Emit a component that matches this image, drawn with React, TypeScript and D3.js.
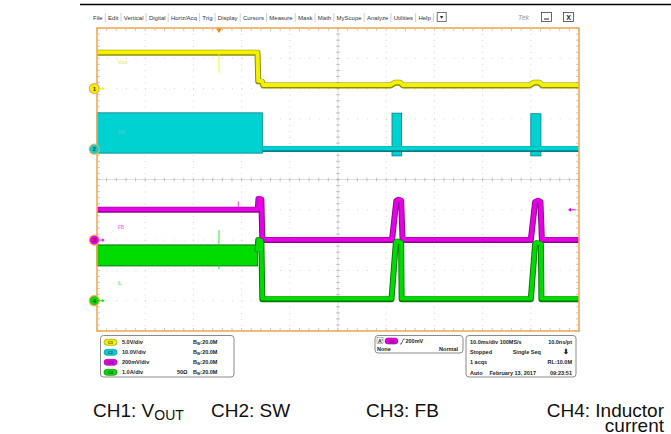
import React, { useMemo } from "react";
import * as d3 from "d3";

const W = 671;
const H = 434;

// ---------- data ----------
const menuItems = ["File", "Edit", "Vertical", "Digital", "Horiz/Acq", "Trig", "Display", "Cursors", "Measure", "Mask", "Math", "MyScope", "Analyze", "Utilities", "Help"];
const channelNums = ["1", "2", "3", "4"];
const channelNames = ["C1", "C2", "C3", "C4"];
const channelScales = [5, 10, 0.2, 1]; // units per division
const channelPositions = [3, 1, -2, -4]; // divisions from centre
const channelLabels = ["Vout", "SW", "FB", "IL"];
const channelSettings = ["5.0V/div", "10.0V/div", "200mV/div", "1.0A/div"];
const channelBandwidth = ["20.0M", "20.0M", "20.0M", "20.0M"];
const channelTermination = ["", "", "", "50Ω"];

// time in ms (10 ms/div)
const triggerTime = 25.3;
const ch1Trace: [number, number][] = [
  [0, 5.9], [33.3, 5.9], [33.45, 1.2], [34.2, 1.15], [34.5, 0.5], [60.9, 0.5], [61.8, 0.95], [62.9, 0.95], [63.5, 0.5],
  [89.7, 0.5], [90.6, 0.95], [91.8, 0.95], [92.4, 0.5], [100, 0.5],
];
// switching bursts: [start, end, low, high]
const ch2Bursts: [number, number, number, number][] = [
  [0, 34.3, -1.3, 12.0], [61.2, 63.2, -2.2, 11.9], [90.0, 92.1, -2.2, 11.7],
];
const ch2Trace: [number, number][] = [[34.3, 0.1], [100, 0.1]];
const ch3Trace: [number, number][] = [
  [0, 0.2], [33.35, 0.2], [33.5, 0.272], [34.1, 0.268], [34.3, 0.0], [61.2, 0.0], [62.1, 0.258], [62.6, 0.266], [63.1, 0.26],
  [63.4, 0.0], [90.0, 0.0], [90.9, 0.252], [91.5, 0.26], [92.0, 0.252], [92.3, 0.0], [100, 0.0],
];
// inductor ripple band before the drop: [start, end, low, high]
const ch4Ripple: [number, number, number, number][] = [[0, 33.3, 1.15, 1.84]];
const ch4Trace: [number, number][] = [
  [33.3, 1.6], [33.45, 2.0], [34.1, 1.95], [34.3, 0.05], [61.1, 0.05], [62.0, 1.92], [62.3, 1.95], [63.1, 1.9], [63.2, 0.05],
  [90.0, 0.05], [90.9, 1.88], [91.2, 1.9], [92.1, 1.86], [92.2, 0.05], [100, 0.05],
];
// single spikes: [channel index, time, from, to]
const glitches: [number, number, number, number][] = [
  [0, 25.3, 5.9, 2.6], [3, 25.3, 2.33, 1.04], [2, 29.3, 0.2, 0.255],
];
const trigLevelCh3 = 0.2;
const trigRows = ["200mV", "None", "Normal"];
const horizRows: [string, string, string][] = [
  ["10.0ms/div 100MS/s", "", "10.0ns/pt"],
  ["Stopped", "Single Seq", "⬇"],
  ["1 acqs", "", "RL:10.0M"],
  ["Auto", "February 13, 2017", "09:23:51"],
];

// ---------- style ----------
const PLOT = { left: 97, right: 579, top: 28, bottom: 331 };
const colors = ["#F2F200", "#00D2D2", "#E600E6", "#00DC00"];
const darks = ["#8E8E00", "#007F86", "#8E008E", "#007A00"];
const labelColors = ["#E8E860", "#40D8D8", "#F060F0", "#50E050"];
const FONT = "'Liberation Sans', Arial, sans-serif";
const ORANGE = "#F2AA55";

export default function App() {
  const x = d3.scaleLinear().domain([0, 100]).range([PLOT.left, PLOT.right]);
  const yDiv = d3.scaleLinear().domain([5, -5]).range([PLOT.top, PLOT.bottom]);
  const yCh = (ch: number, v: number) => yDiv(channelPositions[ch] + v / channelScales[ch]);
  const lineFor = (ch: number) =>
    d3.line<[number, number]>().x((d) => x(d[0])).y((d) => yCh(ch, d[1]));

  const menuLayout = useMemo(() => {
    const c = document.createElement("canvas").getContext("2d")!;
    c.font = `6px ${FONT}`;
    let cx = 93;
    const out: { t: string; x: number; sep: number }[] = [];
    menuItems.forEach((t) => {
      const w = c.measureText(t).width;
      out.push({ t, x: cx, sep: cx + w + 2.6 });
      cx += w + 5.4;
    });
    return { items: out, end: cx };
  }, []);

  const xTicks = d3.range(0, 101, 2);
  const yTicksMinor = d3.range(-5, 5.001, 0.2);

  const strokeTrace = (ch: number, data: [number, number][], key: string) => (
    <g key={key}>
      <path d={lineFor(ch)(data)!} fill="none" stroke={darks[ch]} strokeWidth={6} strokeLinejoin="round" />
      <path d={lineFor(ch)(data)!} fill="none" stroke={colors[ch]} strokeWidth={4} strokeLinejoin="round" transform="translate(0,-0.6)" />
    </g>
  );

  return (
    <svg width={W} height={H} style={{ position: "absolute", left: 0, top: 0, background: "#fff" }} fontFamily={FONT}>
      {/* top rule */}
      <line x1={80} x2={671} y1={4.5} y2={4.5} stroke="#000" strokeWidth={1.5} />

      {/* menu */}
      {menuLayout.items.map((m) => (
        <g key={m.t}>
          <text x={m.x} y={19.5} fontSize={6} fill="#333">{m.t}</text>
          <line x1={m.sep} x2={m.sep} y1={13} y2={22} stroke="#bbb" strokeWidth={0.7} />
        </g>
      ))}
      <rect x={menuLayout.end + 1} y={12.5} width={9} height={9} fill="#fff" stroke="#555" strokeWidth={0.8} />
      <text x={menuLayout.end + 5.5} y={19} fontSize={6} textAnchor="middle" fill="#222">▾</text>
      <text x={518} y={20} fontSize={7} fill="#999" fontStyle="italic">Tek</text>
      <rect x={541.5} y={12.5} width={10} height={9} fill="#fff" stroke="#444" strokeWidth={0.8} />
      <line x1={544} x2={549} y1={19} y2={19} stroke="#222" strokeWidth={1} />
      <rect x={563.5} y={12.5} width={10} height={9} fill="#fff" stroke="#444" strokeWidth={0.8} />
      <text x={568.5} y={19.5} fontSize={7} textAnchor="middle" fill="#222" fontWeight="bold">X</text>

      {/* graticule */}
      <rect x={PLOT.left} y={PLOT.top} width={PLOT.right - PLOT.left} height={PLOT.bottom - PLOT.top} fill="#fff" />
      {d3.range(1, 10).map((i) => (
        <line key={"vx" + i} x1={x(i * 10)} x2={x(i * 10)} y1={PLOT.top} y2={PLOT.bottom} stroke="#bdbdbd" strokeWidth={0.8} strokeDasharray="0.8,5.26" />
      ))}
      {d3.range(-4, 5).map((i) => (
        <line key={"hy" + i} x1={PLOT.left} x2={PLOT.right} y1={yDiv(i)} y2={yDiv(i)} stroke="#bdbdbd" strokeWidth={0.8} strokeDasharray="0.8,8.84" />
      ))}
      <line x1={x(50)} x2={x(50)} y1={PLOT.top} y2={PLOT.bottom} stroke="#d0d0d0" strokeWidth={0.7} />
      <line x1={PLOT.left} x2={PLOT.right} y1={yDiv(0)} y2={yDiv(0)} stroke="#d0d0d0" strokeWidth={0.7} />
      {xTicks.map((t) => (
        <g key={"xt" + t} stroke="#b0b0b0" strokeWidth={0.7}>
          <line x1={x(t)} x2={x(t)} y1={PLOT.top} y2={PLOT.top + 3} />
          <line x1={x(t)} x2={x(t)} y1={PLOT.bottom} y2={PLOT.bottom - 3} />
          <line x1={x(t)} x2={x(t)} y1={yDiv(0) - 2} y2={yDiv(0) + 2} />
        </g>
      ))}
      {yTicksMinor.map((d) => (
        <g key={"yt" + d.toFixed(1)} stroke="#b0b0b0" strokeWidth={0.7}>
          <line x1={PLOT.left} x2={PLOT.left + 3} y1={yDiv(d)} y2={yDiv(d)} />
          <line x1={PLOT.right} x2={PLOT.right - 3} y1={yDiv(d)} y2={yDiv(d)} />
          <line x1={x(50) - 2} x2={x(50) + 2} y1={yDiv(d)} y2={yDiv(d)} />
        </g>
      ))}

      {/* CH1 */}
      {strokeTrace(0, ch1Trace, "c1")}
      {/* CH2 bursts */}
      {ch2Bursts.map((b, i) => (
        <rect key={"b" + i} x={x(b[0])} y={yCh(1, b[3])} width={x(b[1]) - x(b[0])} height={yCh(1, b[2]) - yCh(1, b[3])} fill={colors[1]} stroke={darks[1]} strokeWidth={0.8} />
      ))}
      {strokeTrace(1, ch2Trace, "c2")}
      {/* CH3 */}
      {strokeTrace(2, ch3Trace, "c3")}
      {/* CH4 */}
      {ch4Ripple.map((b, i) => (
        <rect key={"r" + i} x={x(b[0])} y={yCh(3, b[3])} width={x(b[1]) - x(b[0])} height={yCh(3, b[2]) - yCh(3, b[3])} fill={colors[3]} stroke={darks[3]} strokeWidth={1} />
      ))}
      {strokeTrace(3, ch4Trace, "c4")}
      {glitches.map((g, i) => (
        <line key={"g" + i} x1={x(g[1])} x2={x(g[1])} y1={yCh(g[0], g[2])} y2={yCh(g[0], g[3])} stroke={colors[g[0]]} strokeWidth={0.8} />
      ))}

      {/* trace labels */}
      {channelLabels.map((l, i) => (
        <text key={l} x={x(4.3)} y={yDiv(channelPositions[i] + [0.8, 0.5, 0.38, 0.52][i])} fontSize={5} fill={labelColors[i]}>{l}</text>
      ))}

      {/* frame */}
      <rect x={PLOT.left} y={PLOT.top} width={PLOT.right - PLOT.left} height={PLOT.bottom - PLOT.top} fill="none" stroke={ORANGE} strokeWidth={1.6} />
      {/* trigger position marker */}
      <path d={`M${x(triggerTime) - 3},${PLOT.top + 0.5} L${x(triggerTime) + 3},${PLOT.top + 0.5} L${x(triggerTime)},${PLOT.top + 5} Z`} fill="#F08A1A" />
      {/* trigger level arrow ch3 */}
      <g stroke={colors[2]} fill={colors[2]} strokeWidth={0.9}>
        <line x1={569} x2={576} y1={yCh(2, trigLevelCh3)} y2={yCh(2, trigLevelCh3)} />
        <path d={`M568,${yCh(2, trigLevelCh3)} l3,-2 l0,4 Z`} stroke="none" />
      </g>

      {/* channel ground markers */}
      {channelNums.map((n, i) => {
        const cy = yCh(i, 0);
        return (
          <g key={"m" + n}>
            <circle cx={94.3} cy={cy} r={5} fill={colors[i]} stroke={ORANGE} strokeWidth={1.2} />
            <text x={94.3} y={cy + 2.2} fontSize={6} textAnchor="middle" fill="#333" fontWeight="bold">{n}</text>
            <line x1={99.5} x2={103} y1={cy} y2={cy} stroke={colors[i]} strokeWidth={0.9} />
            <path d={`M104.5,${cy} l-2.2,-1.8 l0,3.6 Z`} fill={colors[i]} />
          </g>
        );
      })}

      {/* vertical settings panel */}
      <rect x={100.5} y={335.5} width={133.5} height={41.5} rx={3} fill="#fff" stroke="#8a8a8a" strokeWidth={1} />
      {channelSettings.map((s, i) => {
        const cy = 342.3 + i * 10;
        return (
          <g key={"vs" + i}>
            <rect x={104} y={cy - 3} width={13} height={6} rx={3} fill={colors[i]} stroke={darks[i]} strokeWidth={0.6} />
            <text x={110.5} y={cy + 1.6} fontSize={4} textAnchor="middle" fill="#333" fontWeight="bold">{channelNames[i]}</text>
            <text x={122} y={cy + 2} fontSize={5.5} fill="#222" fontWeight="bold">{s}</text>
            {channelTermination[i] && <text x={177} y={cy + 2} fontSize={5.5} fill="#222" fontWeight="bold">{channelTermination[i]}</text>}
            <text x={193} y={cy + 2} fontSize={5.5} fill="#222" fontWeight="bold">
              B<tspan fontSize={3.5} dy={1}>W</tspan><tspan dy={-1}>:{channelBandwidth[i]}</tspan>
            </text>
          </g>
        );
      })}

      {/* trigger panel */}
      <rect x={375} y={335.5} width={88} height={17.5} rx={3} fill="#fff" stroke="#8a8a8a" strokeWidth={1} />
      <rect x={377} y={337.5} width={6} height={6} fill="#fff" stroke="#777" strokeWidth={0.5} />
      <text x={378} y={342.5} fontSize={5} fill="#222" fontWeight="bold">A'</text>
      <rect x={385} y={338} width={13} height={6} rx={3} fill={colors[2]} stroke={darks[2]} strokeWidth={0.6} />
      <text x={391.5} y={342.6} fontSize={4} textAnchor="middle" fill="#333" fontWeight="bold">{channelNames[2]}</text>
      <path d="M400,344 l1.2,0 l2.4,-5 l1.2,0" fill="none" stroke="#222" strokeWidth={0.7} />
      <text x={405.5} y={343} fontSize={5.5} fill="#222" fontWeight="bold">{trigRows[0]}</text>
      <text x={377} y={350.5} fontSize={5.5} fill="#222" fontWeight="bold">{trigRows[1]}</text>
      <text x={458} y={350.5} fontSize={5.5} fill="#222" fontWeight="bold" textAnchor="end">{trigRows[2]}</text>

      {/* horizontal panel */}
      <rect x={466} y={335.5} width={110} height={41.5} rx={3} fill="#fff" stroke="#8a8a8a" strokeWidth={1} />
      {horizRows.map((r, i) => {
        const cy = 343.5 + i * 10.4;
        return (
          <g key={"hr" + i} fontSize={5.5} fill="#222" fontWeight="bold">
            <text x={470} y={cy}>{r[0]}</text>
            {r[1] && <text x={i === 3 ? 489.5 : 512.7} y={cy}>{r[1]}</text>}
            <text x={i === 1 ? 569 : 572} y={cy} textAnchor="end" fontSize={i === 1 ? 7 : 5.5}>{r[2]}</text>
          </g>
        );
      })}

      {/* captions */}
      <g fontSize={19} fill="#111">
        <text x={93} y={417}>CH1: V<tspan fontSize={14} dy={3}>OUT</tspan></text>
        <text x={211} y={417}>CH2: SW</text>
        <text x={366} y={417}>CH3: FB</text>
        <text x={664} y={417} textAnchor="end">CH4: Inductor</text>
        <text x={664} y={431.5} textAnchor="end">current</text>
      </g>
    </svg>
  );
}
